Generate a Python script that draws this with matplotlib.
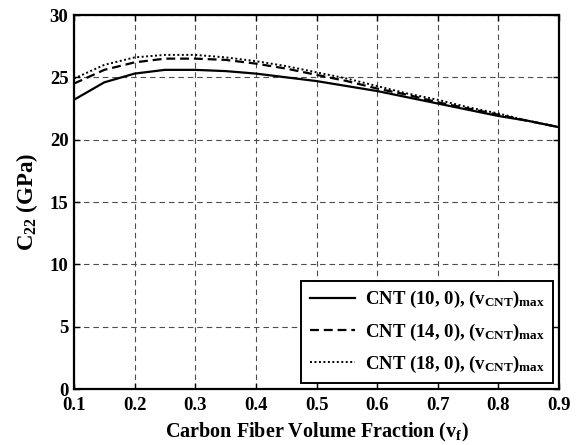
import numpy as np
import matplotlib
matplotlib.use("Agg")
from matplotlib import pyplot as plt

# carbon fiber volume fraction and C22 (GPa) for three CNT chiralities
vf = [0.10, 0.15, 0.20, 0.25, 0.30, 0.35, 0.40, 0.45, 0.50,
      0.55, 0.60, 0.65, 0.70, 0.75, 0.80, 0.85, 0.90]
c22_cnt10 = [23.2, 24.6, 25.3, 25.6, 25.6, 25.5, 25.3, 25.0, 24.7,
             24.3, 23.9, 23.4, 22.9, 22.4, 21.9, 21.5, 21.0]
c22_cnt14 = [24.5, 25.6, 26.2, 26.5, 26.5, 26.4, 26.1, 25.7, 25.2,
             24.7, 24.1, 23.6, 23.0, 22.5, 22.0, 21.5, 21.0]
c22_cnt18 = [24.9, 26.0, 26.6, 26.8, 26.8, 26.6, 26.3, 25.9, 25.4,
             24.9, 24.3, 23.7, 23.2, 22.6, 22.1, 21.5, 21.0]

labels = [r'CNT (10, 0), (v$_{\rm CNT}$)$_{\rm max}$',
          r'CNT (14, 0), (v$_{\rm CNT}$)$_{\rm max}$',
          r'CNT (18, 0), (v$_{\rm CNT}$)$_{\rm max}$']

plt.rcParams['font.family'] = 'Liberation Serif'
plt.rcParams['font.weight'] = 'bold'
plt.rcParams['mathtext.fontset'] = 'custom'
plt.rcParams['mathtext.rm'] = 'Liberation Serif:bold'
plt.rcParams['mathtext.it'] = 'Liberation Serif:bold'
plt.rcParams['mathtext.bf'] = 'Liberation Serif:bold'

fig = plt.figure(figsize=(5.82, 4.45), dpi=100)
ax = fig.add_axes([74 / 582, 1 - 389 / 445, 485 / 582, 374 / 445])

ax.plot(vf, c22_cnt10, color='k', lw=1.6, ls='-', label=labels[0])
ax.plot(vf, c22_cnt14, color='k', lw=1.6, ls=(0, (4, 2.2)), label=labels[1])
ax.plot(vf, c22_cnt18, color='k', lw=1.4, ls=(0, (1, 1.3)), label=labels[2])

ax.set_xlim(0.1, 0.9)
ax.set_ylim(0, 30)
ax.set_xticks(np.arange(0.1, 0.91, 0.1))
ax.set_yticks(np.arange(0, 31, 5))
ax.set_xticklabels(['%.1f' % t for t in np.arange(0.1, 0.91, 0.1)])

ax.grid(True, color='0.3', lw=0.8, ls=(0, (5, 3.5)))
ax.tick_params(direction='in', top=True, right=True, length=4, width=1,
               labelsize=13.5)
ax.tick_params(axis='x', pad=6)
ax.tick_params(axis='y', pad=4)
for sp in ax.spines.values():
    sp.set_linewidth(1.6)

ax.set_xlabel(r'Carbon Fiber Volume Fraction (v$_{\rm f}$)', fontsize=14.5,
              fontweight='bold', labelpad=5)
ax.set_ylabel(r'C$_{22}$ (GPa)', fontsize=16.5, fontweight='bold', labelpad=7)

leg = ax.legend(loc='lower right', fontsize=13.5, frameon=True, fancybox=False,
                edgecolor='k', framealpha=1, handlelength=2.4,
                borderaxespad=0.3, labelspacing=0.6, handletextpad=0.55,
                borderpad=0.45)
leg.get_frame().set_linewidth(1.4)

fig.savefig('out.png', dpi=100)
